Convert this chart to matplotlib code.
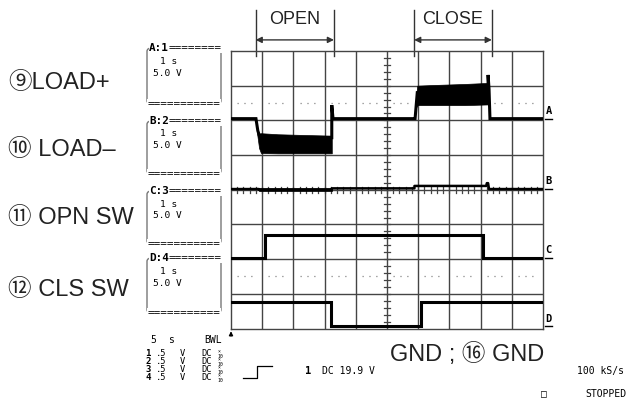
#!/usr/bin/env python
# coding: utf-8

import matplotlib
matplotlib.use('Agg')
from matplotlib import pyplot as plt
from matplotlib.patches import FancyBboxPatch

W, H = 640, 409
MONO = 'DejaVu Sans Mono'
SANS = ['Liberation Sans', 'Noto Sans CJK JP', 'DejaVu Sans']

# screen is 10 x 8 divisions, time 5 s/div, levels in div from the bottom
a_x = [0.0, 0.80, 0.86, 0.93, 3.23, 3.23, 3.27, 5.88, 5.90, 5.97, 8.24, 8.24, 8.27, 8.30, 10.0]
a_y = [6.05, 6.05, 5.70, 5.50, 5.50, 6.44, 6.05, 6.05, 6.05, 6.80, 6.80, 7.31, 6.90, 6.05, 6.05]
a_low_x = [0.84, 0.90, 0.96, 1.5, 2.3, 3.23]
a_low_top = [5.75, 5.62, 5.63, 5.60, 5.58, 5.56]
a_low_bot = [5.60, 5.20, 5.06, 5.05, 5.05, 5.05]
a_high_x = [5.90, 5.97, 6.5, 7.5, 8.24]
a_high_top = [6.40, 7.00, 7.02, 7.05, 7.08]
a_high_bot = [6.30, 6.44, 6.44, 6.44, 6.46]

b_x = [0.0, 0.9, 0.9, 3.23, 3.23, 5.88, 5.88, 8.18, 8.20, 8.24, 8.27, 10.0]
b_y = [4.02, 4.02, 4.00, 4.00, 4.04, 4.04, 4.11, 4.11, 4.19, 4.19, 4.02, 4.02]
b_thick_x = [0.9, 3.23]
b_thick_top = [4.06, 4.06]
b_thick_bot = [3.95, 3.95]

c_x = [0.0, 1.09, 1.09, 8.09, 8.09, 10.0]
c_y = [2.03, 2.03, 2.70, 2.70, 2.03, 2.03]

d_x = [0.0, 3.21, 3.21, 6.08, 6.08, 10.0]
d_y = [0.75, 0.75, 0.06, 0.06, 0.75, 0.75]

markers = ['A', 'B', 'C', 'D']
marker_lvl = [6.05, 4.02, 2.03, 0.06]

open_span = [0.79, 3.30]
close_span = [5.87, 8.36]

labels = ['⑨LOAD+', '⑩ LOAD–', '⑪ OPN SW', '⑫ CLS SW']
label_y = [83, 150, 218, 290]

box_names = ['A:1', 'B:2', 'C:3', 'D:4']
box_top = [48, 121, 191, 258]
box_bot = [104, 174, 244, 313]
box_time = '1 s'
box_volt = '5.0 V'

row_ch = ['1', '2', '3', '4']
row_y = [354, 362, 370, 378]


def t(x, y, s, **kw):
    return fig.text(x / W, 1 - y / H, s, **kw)


fig = plt.figure(figsize=(6.4, 4.09), dpi=100)
ax = fig.add_axes([231 / W, 1 - 328.5 / H, 312 / W, 277.5 / H])
ax.set_xlim(0, 10)
ax.set_ylim(0, 8)
ax.set_xticks([])
ax.set_yticks([])
for sp in ax.spines.values():
    sp.set_color('#444')
    sp.set_linewidth(1.0)

# graticule
for gx in range(1, 10):
    ax.axvline(gx, color='#444', lw=1.0, zorder=1)
for gy in range(1, 8):
    ax.axhline(gy, color='#444', lw=1.0, zorder=1)
for k in range(1, 40):
    ax.plot([4.9, 5.1], [k * 0.2, k * 0.2], color='#444', lw=0.9, zorder=1)
for k in range(1, 50):
    ax.plot([k * 0.2, k * 0.2], [3.92, 4.08], color='#444', lw=0.9, zorder=1)
for gy in [6.5, 1.5]:
    for gx in range(10):
        ax.plot([gx + 0.2, gx + 0.8], [gy, gy], color='#888', lw=0.9,
                ls=(0, (1, 4.5)), zorder=1)

# traces
tr = dict(color='black', lw=2.2, zorder=3, solid_joinstyle='miter')
ax.plot(a_x, a_y, **tr)
ax.fill_between(a_low_x, a_low_bot, a_low_top, color='black', lw=0.5, zorder=3)
ax.fill_between(a_high_x, a_high_bot, a_high_top, color='black', lw=0.5, zorder=3)
ax.plot(b_x, b_y, color='black', lw=1.8, zorder=3)
ax.fill_between(b_thick_x, b_thick_bot, b_thick_top, color='black', lw=0.5, zorder=3)
ax.plot(c_x, c_y, **tr)
ax.plot(d_x, d_y, **tr)

for m, lv in zip(markers, marker_lvl):
    ax.text(10.08, lv + 0.08, m, fontsize=7.5, family=MONO, fontweight='bold',
            va='bottom', ha='left', clip_on=False)
    ax.plot([10.06, 10.3], [lv, lv], color='black', lw=1.0, clip_on=False)

# trigger position arrow
ax.annotate('', xy=(0, 0.0), xytext=(0, -0.3), annotation_clip=False,
            arrowprops=dict(arrowstyle='-|>', lw=0.8, color='black', mutation_scale=6))

# OPEN / CLOSE spans
for span, name in [(open_span, 'OPEN'), (close_span, 'CLOSE')]:
    for xv in span:
        ax.plot([xv, xv], [7.85, 9.18], color='#333', lw=1.0, clip_on=False)
    ax.annotate('', xy=(span[1], 8.32), xytext=(span[0], 8.32), annotation_clip=False,
                arrowprops=dict(arrowstyle='<|-|>', lw=1.0, color='#333', mutation_scale=9,
                                shrinkA=0, shrinkB=0))
    ax.text(sum(span) / 2, 8.9, name, fontsize=13, family=SANS, ha='center', va='center',
            color='#222', clip_on=False)

# left labels and channel boxes
for lab, ly in zip(labels, label_y):
    t(8, ly, lab, fontsize=17, family=SANS, va='center', ha='left', color='#222')

for name, top, bot in zip(box_names, box_top, box_bot):
    fig.patches.append(FancyBboxPatch((147 / W, 1 - bot / H), 74 / W, (bot - top) / H,
                                      boxstyle='round,pad=0,rounding_size=0.008',
                                      transform=fig.transFigure, fill=False,
                                      ec='#777', lw=1.0))
    tt = t(149, top, name, fontsize=7.9, family=MONO, fontweight='bold', ha='left', va='center')
    tt.set_bbox(dict(fc='white', ec='none', pad=0.3))
    te = t(169, top, '=' * 8, fontsize=7.9, family=MONO, ha='left', va='center')
    te.set_bbox(dict(fc='white', ec='none', pad=0.3))
    tb = t(184, bot, '=' * 11, fontsize=7.9, family=MONO, ha='center', va='center')
    tb.set_bbox(dict(fc='white', ec='none', pad=0.3))
    t(160, top + 13, box_time, fontsize=6.8, family=MONO, va='center')
    t(153, top + 25, box_volt, fontsize=6.8, family=MONO, va='center')

# bottom status area
t(150, 340, '5', fontsize=7, family=MONO, va='center')
t(168, 340, 's', fontsize=7, family=MONO, va='center')
t(204, 340, 'BWL', fontsize=7, family=MONO, va='center')
for ch, ry in zip(row_ch, row_y):
    t(145, ry, ch, fontsize=6.5, family=MONO, fontweight='bold', va='center')
    t(156, ry, '.5', fontsize=6.3, family=MONO, va='center')
    t(180, ry, 'V', fontsize=6.3, family=MONO, va='center')
    t(201, ry, 'DC', fontsize=6.3, family=MONO, va='center')
    t(218, ry - 2, '×', fontsize=3.5, family=MONO, va='center')
    t(217, ry + 2, '10', fontsize=3.5, family=MONO, va='center')

fig.lines.append(plt.Line2D([243 / W, 257 / W, 257 / W, 272 / W],
                            [1 - 378 / H, 1 - 378 / H, 1 - 366 / H, 1 - 366 / H],
                            transform=fig.transFigure, color='black', lw=0.9))
t(305, 371, '1', fontsize=7.5, family=MONO, fontweight='bold', va='center')
t(322, 371, 'DC 19.9 V', fontsize=7, family=MONO, va='center')

t(390, 355, 'GND ; ⑯ GND', fontsize=17, family=SANS, va='center', color='#222')
t(577, 371, '100 kS/s', fontsize=7, family=MONO, va='center')
t(541, 394, '□', fontsize=7, family=MONO, va='center')
t(585, 394, 'STOPPED', fontsize=7, family=MONO, va='center')

fig.savefig('out.png', dpi=100)
